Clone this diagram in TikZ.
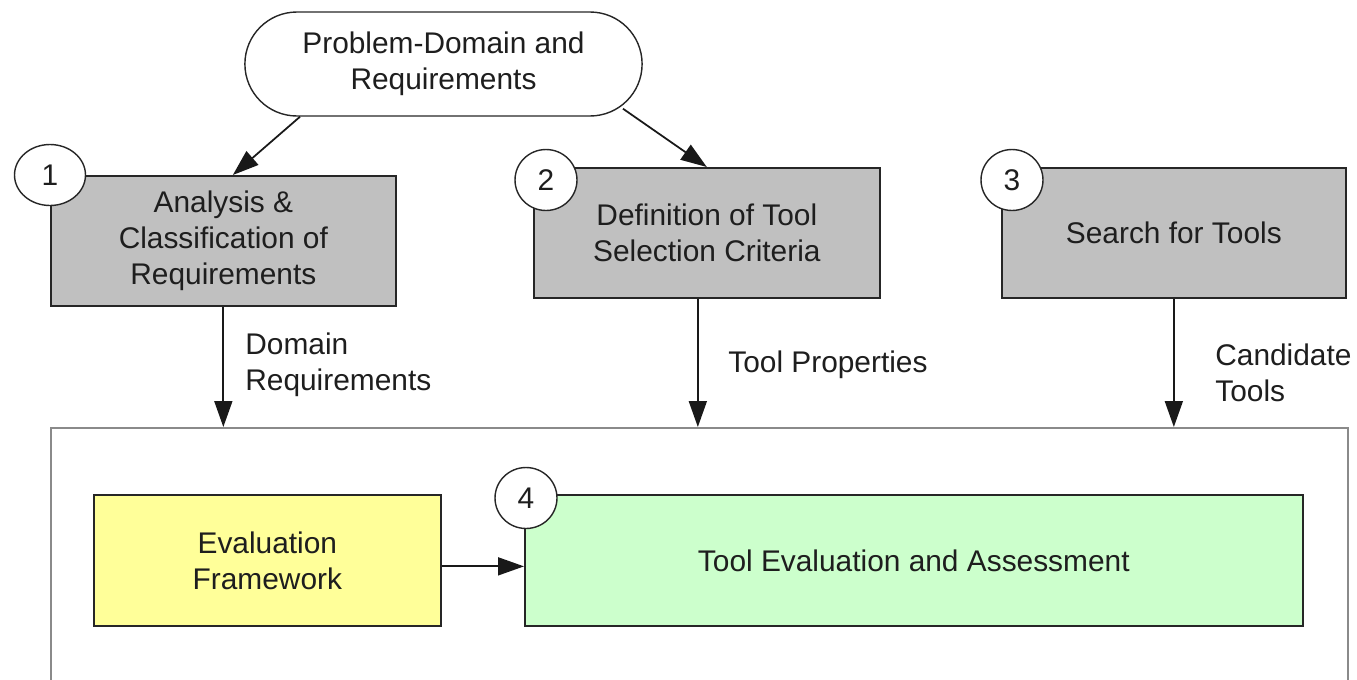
\documentclass[tikz,border=0pt]{standalone}
\usepackage{fontspec}
\setmainfont{Liberation Sans}
\usetikzlibrary{arrows.meta,shapes.geometric,shapes.misc}

\definecolor{stepgray}{HTML}{C0C0C0}
\definecolor{frameyellow}{HTML}{FFFF99}
\definecolor{assessgreen}{HTML}{CCFFCC}
\definecolor{framegray}{HTML}{8A8A8A}
\definecolor{inkgray}{HTML}{1E1E1E}

\tikzset{
  txt/.style={font=\fontsize{17}{20.5}\selectfont, text=inkgray},
  stepbox/.style={txt, draw=black!85, line width=1pt, align=center, inner sep=0pt, anchor=north west},
  numcircle/.style={txt, ellipse, draw=black!85, fill=white, line width=0.8pt, inner sep=0pt,
    minimum width=1.24cm, minimum height=1.22cm},
  arr/.style={draw=black!90, line width=1pt, -{Triangle[length=0.52cm,width=0.36cm]}},
  lbl/.style={txt, align=left, anchor=west, inner sep=0pt}
}

\begin{document}
\begin{tikzpicture}[x=0.02cm, y=-0.02cm]
    \useasboundingbox (0,0) rectangle (1357,680);
    % outer frame
    \node[draw=framegray, line width=1pt, anchor=north west, inner sep=0pt,
      minimum width=25.94cm, minimum height=5.6cm] (frame) at (50,427) {};
    % top
    \node[txt, rounded rectangle, draw=black!85, line width=0.8pt, align=center,
      minimum width=8.18cm, minimum height=2.08cm] (pill) at (443.5,64)
      {Problem-Domain and\\Requirements};
    % steps
    \node[stepbox, fill=stepgray, minimum width=6.9cm, minimum height=2.6cm] (box1) at (50,175)
      {Analysis \&\\Classification of\\Requirements};
    \node[stepbox, fill=stepgray, minimum width=6.92cm, minimum height=2.6cm] (box2) at (533,167)
      {Definition of Tool\\Selection Criteria};
    \node[stepbox, fill=stepgray, minimum width=6.88cm, minimum height=2.6cm] (box3) at (1001,167)
      {Search for Tools};
    \node[stepbox, fill=frameyellow, minimum width=6.94cm, minimum height=2.62cm] (evalfw) at (93,494)
      {Evaluation\\Framework};
    \node[stepbox, fill=assessgreen, minimum width=15.56cm, minimum height=2.62cm] (assess) at (524,494)
      {Tool Evaluation and Assessment};
    % numbers
    \node[numcircle, minimum width=1.42cm] (n1) at (50,175) {1};
    \node[numcircle] (n2) at (546,180) {2};
    \node[numcircle] (n3) at (1012,180) {3};
    \node[numcircle] (n4) at (526,498) {4};
    % arrows
    \draw[arr] ([xshift=-2.87cm]pill.south) -- ([xshift=0.19cm]box1.north);
    \draw[arr] ([xshift=3.59cm,yshift=0.16cm]pill.south) -- (box2.north);
    \draw[arr] (box1.south) -- (box1.south |- frame.north);
    \draw[arr] ([xshift=-0.18cm]box2.south) -- ([xshift=-0.18cm]box2.south |- frame.north);
    \draw[arr] (box3.south) -- (box3.south |- frame.north);
    \draw[arr] ([yshift=-0.12cm]evalfw.east) -- ([yshift=-0.12cm]assess.west);
    % labels
    \node[lbl] (l1) at (245,365) {Domain\\Requirements};
    \node[lbl] (l2) at (728,365) {Tool Properties};
    \node[lbl] (l3) at (1215,373) {Candidate\\Tools};
\end{tikzpicture}
\end{document}
